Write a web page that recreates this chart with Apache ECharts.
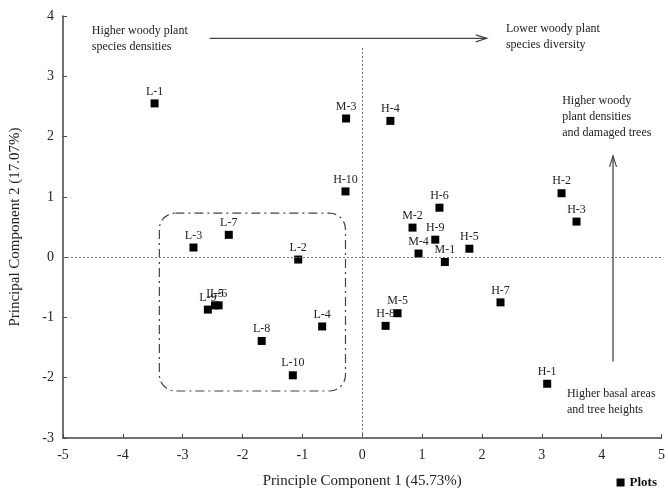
<!DOCTYPE html>
<html><head><meta charset="utf-8">
<script src="https://cdn.jsdelivr.net/npm/echarts@6/dist/echarts.min.js"></script>
<style>html,body{margin:0;padding:0;background:#fff}#c{width:668px;height:494px}</style>
</head><body><div id="c"></div>
<script>
var plotNames = ['L-1','L-2','L-3','L-4','L-9','L-5','L-6','L-7','L-8','L-10',
  'M-1','M-2','M-3','M-4','M-5',
  'H-1','H-2','H-3','H-4','H-5','H-6','H-7','H-8','H-9','H-10'];
var pc1 = [-3.47,-1.07,-2.82,-0.67,-2.58,-2.46,-2.40,-2.23,-1.68,-1.16,
  1.38,0.84,-0.27,0.94,0.59,
  3.09,3.33,3.58,0.47,1.79,1.29,2.31,0.39,1.22,-0.28];
var pc2 = [2.55,-0.04,0.16,-1.15,-0.87,-0.80,-0.80,0.37,-1.39,-1.96,
  -0.08,0.49,2.30,0.06,-0.93,
  -2.10,1.06,0.59,2.26,0.14,0.82,-0.75,-1.14,0.29,1.09];
var xTicks = [-5,-4,-3,-2,-1,0,1,2,3,4,5];
var yTicks = [-3,-2,-1,0,1,2,3,4];
var xTitle = 'Principle Component 1 (45.73%)';
var yTitle = 'Principal Component 2 (17.07%)';
var legendName = 'Plots';
// annotations (data coordinates)
var arrowH = [[-2.55,3.63],[2.08,3.63]];
var arrowV = [[4.19,-1.73],[4.19,1.68]];
var groupBox = [[-3.39,0.73],[-0.28,-2.22]];
var notes = [
  {text:'Higher woody plant\nspecies densities', at:[-4.52,3.88]},
  {text:'Lower woody plant\nspecies diversity', at:[2.40,3.92]},
  {text:'Higher woody\nplant densities\nand damaged trees', at:[3.34,2.72]},
  {text:'Higher basal areas\nand tree heights', at:[3.42,-2.14]}
];

var FONT = "'Liberation Serif','Times New Roman',serif";
var chart = echarts.init(document.getElementById('c'));
var pts = plotNames.map(function(n,i){return {name:n, value:[pc1[i],pc2[i]]};});
chart.setOption({
  animation:false,
  textStyle:{fontFamily:FONT},
  grid:{left:62,right:3,top:16,bottom:50},
  legend:{data:[legendName],right:6,bottom:0,icon:'rect',itemWidth:8,itemHeight:8,itemGap:6,
    textStyle:{fontFamily:FONT,fontWeight:'bold',fontSize:13,color:'#111'}},
  xAxis:{type:'value',min:-5,max:5,interval:1,
    name:xTitle,nameLocation:'middle',nameGap:36,
    nameTextStyle:{fontFamily:FONT,fontSize:15,color:'#222'},
    axisLine:{onZero:false,lineStyle:{color:'#444',width:1.5}},
    axisTick:{inside:true,length:4,lineStyle:{color:'#444'}},
    axisLabel:{fontFamily:FONT,fontSize:14,color:'#222',margin:10,
      formatter:function(v){return xTicks.indexOf(v)>=0?String(v):'';}},
    splitLine:{show:false}},
  yAxis:{type:'value',min:-3,max:4,interval:1,
    name:yTitle,nameLocation:'middle',nameGap:40,nameRotate:90,
    nameTextStyle:{fontFamily:FONT,fontSize:15,color:'#222'},
    axisLine:{show:true,onZero:false,lineStyle:{color:'#444',width:1.5}},
    axisTick:{show:true,inside:true,length:4,lineStyle:{color:'#444'}},
    axisLabel:{fontFamily:FONT,fontSize:14,color:'#222',margin:9,
      formatter:function(v){return yTicks.indexOf(v)>=0?String(v):'';}},
    splitLine:{show:false}},
  series:[{
    name:legendName,type:'scatter',symbol:'rect',symbolSize:8,
    itemStyle:{color:'#000',opacity:1},
    data:pts,
    label:{show:true,position:'top',distance:2,formatter:'{b}',
      fontFamily:FONT,fontSize:12,color:'#222'},
    markLine:{silent:true,symbol:['none','none'],label:{show:false},
      lineStyle:{type:[2,2],color:'#777',width:1},
      data:[
        [{coord:[0,-3]},{coord:[0,3.5]}],
        [{coord:[-5,0]},{coord:[5,0]}]
      ]}
  }]
});

function px(p){return chart.convertToPixel({gridIndex:0},p);}
var g = [];
var ac = '#444';
// horizontal arrow
var h0 = px(arrowH[0]), h1 = px(arrowH[1]);
g.push({type:'line',shape:{x1:h0[0],y1:h0[1],x2:h1[0],y2:h1[1]},style:{stroke:ac,lineWidth:1.3}});
g.push({type:'polyline',shape:{points:[[h1[0]-11,h1[1]-3.5],[h1[0],h1[1]],[h1[0]-11,h1[1]+3.5]]},style:{stroke:ac,lineWidth:1.2,fill:null}});
// vertical arrow
var v0 = px(arrowV[0]), v1 = px(arrowV[1]);
g.push({type:'line',shape:{x1:v0[0],y1:v0[1],x2:v1[0],y2:v1[1]},style:{stroke:ac,lineWidth:1.3}});
g.push({type:'polyline',shape:{points:[[v1[0]-3.5,v1[1]+11],[v1[0],v1[1]],[v1[0]+3.5,v1[1]+11]]},style:{stroke:ac,lineWidth:1.2,fill:null}});
// rounded dash-dot box
var b0 = px(groupBox[0]), b1 = px(groupBox[1]);
g.push({type:'rect',shape:{x:b0[0],y:b0[1],width:b1[0]-b0[0],height:b1[1]-b0[1],r:16},
  style:{stroke:'#444',fill:null,lineWidth:1.2,lineDash:[9,4,2,4]}});
notes.forEach(function(n){
  var p = px(n.at);
  g.push({type:'text',x:p[0],y:p[1],style:{text:n.text,font:'12px '+FONT,fill:'#222',lineHeight:16,textAlign:'left',textVerticalAlign:'top'}});
});
chart.setOption({graphic:g});
</script></body></html>
